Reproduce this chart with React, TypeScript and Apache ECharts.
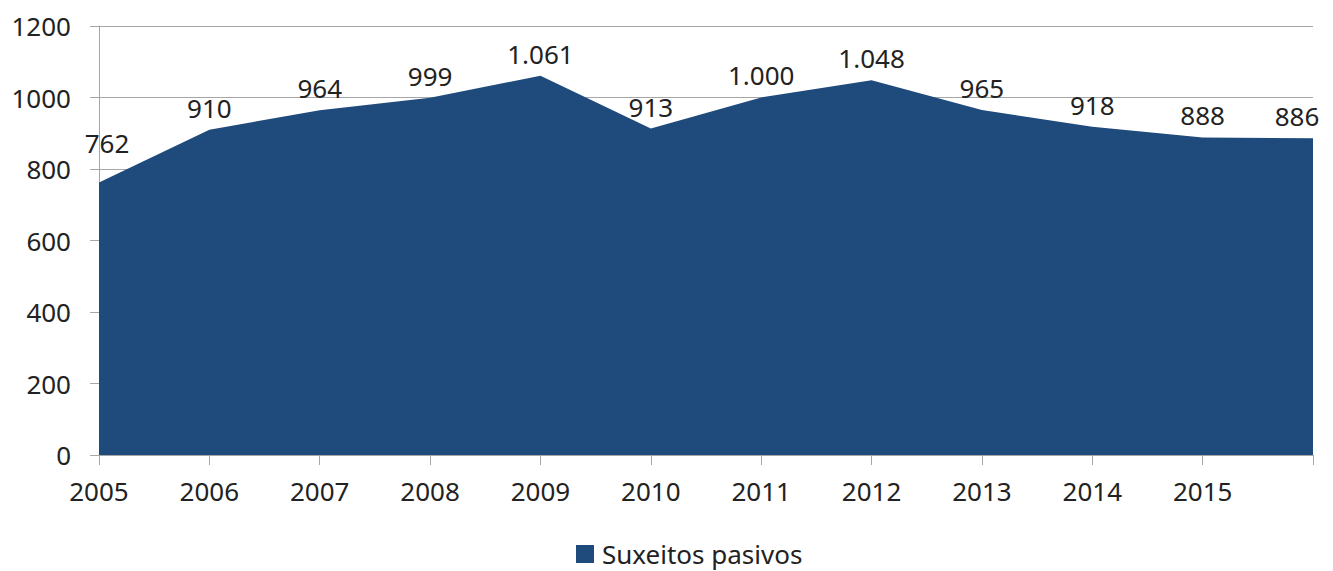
import React, { useEffect, useRef } from "react";
import * as echarts from "echarts";

const years = ["2005", "2006", "2007", "2008", "2009", "2010", "2011", "2012", "2013", "2014", "2015", "2016"];
const shownYearCount = 11;
const suxeitosPasivos = [762, 910, 964, 999, 1061, 913, 1000, 1048, 965, 918, 888, 886];
const seriesName = "Suxeitos pasivos";
const yTicks = { min: 0, max: 1200, interval: 200 };

const FONT = "'Noto Sans', sans-serif";
const AREA = "#1F4A7C";
const AXIS = "#A6A6A6";

function fmt(v: number): string {
  const s = String(Math.round(v));
  return s.replace(/\B(?=(\d{3})+(?!\d))/g, ".");
}

export default function App() {
  const ref = useRef<HTMLDivElement>(null);
  useEffect(() => {
    if (!ref.current) return;
    const chart = echarts.init(ref.current, null, { renderer: "svg" });
    const last = suxeitosPasivos.length - 1;
    chart.setOption({
      animation: false,
      backgroundColor: "#ffffff",
      textStyle: { fontFamily: FONT },
      grid: { left: 99, right: 20, top: 26, bottom: 116, containLabel: false },
      legend: {
        bottom: -1,
        left: 571,
        icon: "rect",
        itemWidth: 18,
        itemHeight: 18,
        itemGap: 10,
        textStyle: { fontFamily: FONT, fontSize: 26, color: "#222", padding: [0, 0, 0, 3] },
        data: [seriesName],
      },
      xAxis: {
        type: "category",
        data: years,
        boundaryGap: false,
        axisLine: { lineStyle: { color: AXIS, width: 1 } },
        axisTick: { show: true, length: 10, lineStyle: { color: AXIS }, alignWithLabel: true, interval: 0 },
        axisLabel: {
          interval: 0,
          margin: 23,
          fontFamily: FONT,
          fontSize: 26,
          color: "#222",
          formatter: (v: string, i: number) => (i < shownYearCount ? v : ""),
        },
        splitLine: { show: false },
      },
      yAxis: {
        type: "value",
        min: yTicks.min,
        max: yTicks.max,
        interval: yTicks.interval,
        axisLine: { show: true, lineStyle: { color: AXIS, width: 1 } },
        axisTick: { show: true, length: 9, lineStyle: { color: AXIS } },
        axisLabel: {
          margin: 28,
          fontFamily: FONT,
          fontSize: 26,
          color: "#222",
          formatter: (v: number) => String(v),
        },
        splitLine: { show: true, lineStyle: { color: AXIS, width: 1 } },
      },
      series: [
        {
          name: seriesName,
          type: "line",
          data: suxeitosPasivos.map((v, i) => {
            if (i === 0) {
              return {
                value: v,
                label: { position: "top", offset: [8, -18] },
              };
            }
            if (i === last) {
              return { value: v, label: { position: "top", offset: [-16, 0] } };
            }
            return v;
          }),
          symbol: "circle",
          symbolSize: 0.1,
          showSymbol: true,
          showAllSymbol: true,
          lineStyle: { width: 0, color: AREA },
          itemStyle: { color: AREA },
          areaStyle: { color: AREA, opacity: 1 },
          z: 1,
          label: {
            show: true,
            position: "top",
            distance: 9,
            fontFamily: FONT,
            fontSize: 26,
            color: "#222",
            formatter: (p: any) => fmt(p.value),
          },
        },
      ],
    });
    return () => chart.dispose();
  }, []);
  return (
    <div
      ref={ref}
      style={{ position: "fixed", left: 0, top: 0, width: 1333, height: 571 }}
    />
  );
}
